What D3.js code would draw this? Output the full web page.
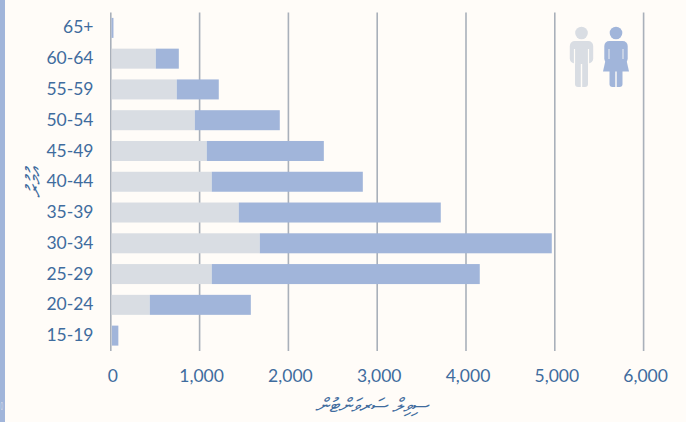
<!DOCTYPE html>
<html><head><meta charset="utf-8">
<script src="https://cdn.jsdelivr.net/npm/d3@7"></script>
<style>
html,body{margin:0;padding:0;background:#fffcf8;overflow:hidden}
svg{display:block}
text{font-family:Lato,"Open Sans",sans-serif;fill:#3f6c9e}
</style></head><body><svg id="c" width="686" height="422"></svg>
<script>
const categories=["65+","60-64","55-59","50-54","45-49","40-44","35-39","30-34","25-29","20-24","15-19"];
const male=[8,507,743,946,1081,1137,1441,1678,1137,439,12];
const female=[22,259,473,957,1318,1701,2275,3288,3018,1138,73];
const xTicks=[0,1000,2000,3000,4000,5000,6000];
const xTitle="ސިވިލް ސަރވަންޓުން";
const yTitle="އުމުރު";
const colors={male:"#d9dde3",female:"#a1b5da",grid:"#a9b0ba",bg:"#fffcf8",stripe:"#a1b5da"};

const svg=d3.select("#c");
svg.append("rect").attr("width",686).attr("height",422).attr("fill",colors.bg);
svg.append("rect").attr("width",5).attr("height",422).attr("fill",colors.stripe);

const x=d3.scaleLinear().domain([0,6000]).range([110.8,643.6]);
const y=d3.scaleBand().domain(categories).range([12.5,351]).paddingInner(0.35).paddingOuter(0.175);

const gridG=svg.append("g");
const xAxis=d3.axisBottom(x).tickValues(xTicks).tickFormat(d3.format(",")).tickSize(0).tickPadding(0);
const ax=svg.append("g").attr("transform","translate(0,351)").call(xAxis);
ax.select(".domain").remove();
ax.selectAll("text").attr("y",24.5).attr("dy","0.35em").attr("x",1.5).style("font-size","17.5px");
gridG.selectAll("line").data(xTicks).join("line")
 .attr("x1",d=>x(d)).attr("x2",d=>x(d)).attr("y1",12.5).attr("y2",351)
 .attr("stroke",colors.grid).attr("stroke-width",1.6);

const rows=categories.map((c,i)=>({c,male:male[i],female:female[i]}));
const stack=d3.stack().keys(["male","female"])(rows);
svg.append("g").selectAll("g").data(stack).join("g").attr("fill",d=>colors[d.key])
 .selectAll("rect").data(d=>d).join("rect")
 .attr("x",d=>x(d[0])+ (d[0]===0?1:0)).attr("width",d=>x(d[1])-x(d[0])-(d[0]===0?1:0))
 .attr("y",d=>y(d.data.c)).attr("height",y.bandwidth());

const yAxis=d3.axisLeft(y).tickSize(0).tickPadding(0);
const ay=svg.append("g").attr("transform","translate(93.5,0)").call(yAxis);
ay.select(".domain").remove();
ay.selectAll("text").style("font-size","17.5px");

svg.append("text").attr("x",371.5).attr("y",412).attr("text-anchor","middle").style("font-size","19.5px").style("font-style","italic").attr("direction","rtl").text(xTitle);
svg.append("text").attr("transform","translate(41,183) rotate(-90)").attr("text-anchor","middle").style("font-size","21px").style("font-style","italic").attr("direction","rtl").text(yTitle);
svg.append("text").attr("transform","translate(0.5,410) scale(0.4,1)").style("font-size","11px").style("fill","#d5dbe8").text("0");

// figure icons
function figure(cx,color,dress){
 const g=svg.append("g").attr("fill",color);
 g.append("circle").attr("cx",cx).attr("cy",33).attr("r",6.3);
 g.append("rect").attr("x",cx-11.7).attr("y",41).attr("width",23.4).attr("height",22.5).attr("rx",5);
 g.append("rect").attr("x",cx-6.5).attr("y",50).attr("width",13).attr("height",37).attr("rx",3);
 if(dress) g.append("path").attr("d",`M${cx-10} 58 L${cx+10} 58 L${cx+13} 71.500 L${cx-13} 71.500 Z`);
 const gap=g.append("g").attr("stroke",colors.bg).attr("stroke-width",dress?0.8:1.2);
 gap.append("line").attr("x1",cx).attr("x2",cx).attr("y1",dress?71.5:64).attr("y2",87).attr("stroke-width",1.4);
 [-7,7].forEach(d=>gap.append("line").attr("x1",cx+d).attr("x2",cx+d).attr("y1",49).attr("y2",dress?59:64));
}
figure(581.5,colors.male,false);
figure(616,colors.female,true);
</script></body></html>
